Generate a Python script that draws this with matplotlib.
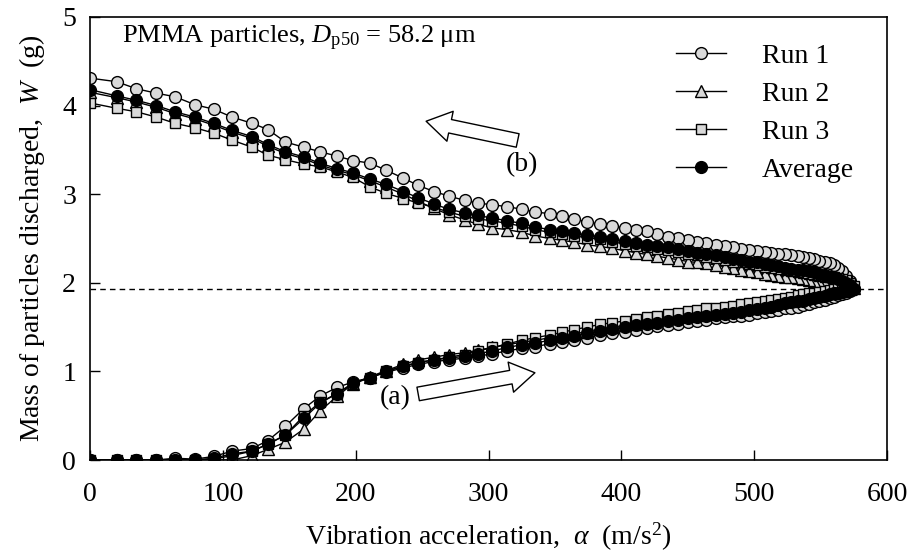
import matplotlib
matplotlib.use('Agg')
import matplotlib.pyplot as plt

# Times-like look
plt.rcParams['font.family'] = ['Liberation Serif', 'DejaVu Serif']
plt.rcParams['mathtext.fontset'] = 'custom'
plt.rcParams['mathtext.rm'] = 'Liberation Serif'
plt.rcParams['mathtext.it'] = 'Liberation Serif:italic'

# vibration acceleration (m/s2), increasing sweep (a)
alpha_up = [0, 20, 35, 50, 64, 79, 93, 107, 122, 134,
            147, 161, 173, 186, 198, 211, 223, 236, 247, 259,
            270, 282, 292, 303, 314, 325, 335, 346, 355, 364,
            374, 384, 393, 403, 411, 419, 427, 435, 443, 450,
            457, 464, 471, 478, 484, 490, 496, 502, 508, 513,
            518, 523, 528, 533, 537, 541, 545, 549, 553, 557,
            560, 563, 566, 569, 572, 575]
# decreasing sweep (b), listed from low to high alpha
alpha_back = [0, 20, 35, 50, 64, 79, 93, 107, 122, 134,
              147, 161, 173, 186, 198, 211, 223, 236, 247, 259,
              270, 282, 292, 303, 314, 325, 335, 346, 355, 364,
              374, 384, 393, 403, 411, 419, 427, 435, 443, 450,
              457, 464, 471, 478, 484, 490, 496, 502, 508, 513,
              518, 523, 528, 533, 537, 541, 545, 549, 553, 557,
              560, 563, 566, 569, 572]

# mass discharged W (g), sweep (a)
run1_up = [0, 0, 0, 0, 0.02, 0.01, 0.04, 0.1, 0.13, 0.22,
           0.38, 0.58, 0.72, 0.82, 0.88, 0.93, 0.99, 1.04, 1.08, 1.11,
           1.13, 1.15, 1.17, 1.2, 1.23, 1.26, 1.28, 1.31, 1.33, 1.36,
           1.38, 1.41, 1.43, 1.45, 1.47, 1.49, 1.51, 1.52, 1.54, 1.56,
           1.57, 1.58, 1.6, 1.61, 1.62, 1.63, 1.64, 1.66, 1.67, 1.68,
           1.69, 1.71, 1.72, 1.73, 1.75, 1.76, 1.78, 1.79, 1.81, 1.83,
           1.84, 1.86, 1.87, 1.89, 1.91, 1.93]
run2_up = [0, 0, 0, 0, 0, 0, 0, 0, 0.05, 0.12,
           0.2, 0.35, 0.55, 0.72, 0.86, 0.94, 1.01, 1.08, 1.13, 1.16,
           1.19, 1.21, 1.24, 1.27, 1.3, 1.33, 1.35, 1.38, 1.4, 1.42,
           1.45, 1.48, 1.5, 1.52, 1.54, 1.56, 1.58, 1.6, 1.61, 1.63,
           1.64, 1.65, 1.67, 1.68, 1.69, 1.7, 1.72, 1.73, 1.75, 1.76,
           1.78, 1.79, 1.8, 1.82, 1.83, 1.84, 1.85, 1.86, 1.87, 1.88,
           1.89, 1.9, 1.91, 1.92, 1.93, 1.94]
run3_up = [0, 0, 0, 0, 0, 0, 0.01, 0.05, 0.1, 0.18,
           0.28, 0.5, 0.65, 0.75, 0.86, 0.93, 1.0, 1.06, 1.1, 1.13,
           1.16, 1.19, 1.23, 1.27, 1.31, 1.35, 1.38, 1.41, 1.44, 1.47,
           1.5, 1.53, 1.55, 1.57, 1.59, 1.61, 1.63, 1.65, 1.66, 1.68,
           1.69, 1.71, 1.72, 1.73, 1.74, 1.76, 1.77, 1.78, 1.79, 1.81,
           1.82, 1.83, 1.84, 1.86, 1.87, 1.88, 1.89, 1.9, 1.91, 1.92,
           1.93, 1.94, 1.94, 1.95, 1.95, 1.96]
avg_up = [0, 0, 0, 0, 0, 0, 0.02, 0.07, 0.1, 0.18,
          0.28, 0.47, 0.64, 0.75, 0.87, 0.93, 1.0, 1.06, 1.1, 1.13,
          1.15, 1.17, 1.2, 1.23, 1.27, 1.3, 1.32, 1.35, 1.38, 1.4,
          1.43, 1.46, 1.48, 1.5, 1.52, 1.54, 1.55, 1.57, 1.58, 1.6,
          1.61, 1.62, 1.64, 1.65, 1.66, 1.67, 1.69, 1.7, 1.72, 1.73,
          1.75, 1.77, 1.78, 1.79, 1.8, 1.82, 1.83, 1.84, 1.85, 1.87,
          1.88, 1.89, 1.9, 1.91, 1.92, 1.93]

# mass discharged W (g), sweep (b), low to high alpha
run1_back = [4.31, 4.27, 4.19, 4.14, 4.1, 4.01, 3.96, 3.87, 3.8, 3.73,
             3.59, 3.53, 3.48, 3.43, 3.38, 3.35, 3.27, 3.18, 3.1, 3.03,
             2.98, 2.93, 2.9, 2.88, 2.86, 2.83, 2.8, 2.78, 2.75, 2.72,
             2.69, 2.66, 2.64, 2.62, 2.6, 2.58, 2.55, 2.52, 2.5, 2.48,
             2.46, 2.45, 2.43, 2.41, 2.4, 2.38, 2.37, 2.36, 2.35, 2.34,
             2.33, 2.32, 2.31, 2.3, 2.29, 2.28, 2.27, 2.25, 2.24, 2.22,
             2.2, 2.17, 2.13, 2.08, 2.02]
run2_back = [4.15, 4.09, 4.04, 3.98, 3.91, 3.85, 3.78, 3.7, 3.63, 3.54,
             3.46, 3.4, 3.33, 3.27, 3.22, 3.15, 3.08, 3.0, 2.92, 2.84,
             2.77, 2.71, 2.66, 2.62, 2.6, 2.57, 2.53, 2.5, 2.48, 2.46,
             2.43, 2.41, 2.39, 2.36, 2.34, 2.32, 2.3, 2.28, 2.26, 2.24,
             2.23, 2.22, 2.2, 2.18, 2.17, 2.15, 2.13, 2.12, 2.1, 2.09,
             2.08, 2.07, 2.06, 2.05, 2.04, 2.03, 2.02, 2.01, 2.0, 2.0,
             1.99, 1.98, 1.97, 1.96, 1.95]
run3_back = [4.03, 3.97, 3.93, 3.87, 3.8, 3.75, 3.69, 3.61, 3.53, 3.44,
             3.39, 3.34, 3.31, 3.25, 3.19, 3.08, 3.01, 2.95, 2.9, 2.85,
             2.8, 2.75, 2.72, 2.7, 2.67, 2.64, 2.6, 2.57, 2.55, 2.53,
             2.51, 2.49, 2.46, 2.44, 2.42, 2.4, 2.38, 2.37, 2.35, 2.33,
             2.31, 2.29, 2.28, 2.26, 2.24, 2.23, 2.21, 2.2, 2.18, 2.17,
             2.16, 2.14, 2.13, 2.12, 2.11, 2.1, 2.09, 2.08, 2.07, 2.06,
             2.06, 2.05, 2.04, 2.03, 2.0]
avg_back = [4.18, 4.11, 4.06, 4.0, 3.93, 3.87, 3.8, 3.72, 3.65, 3.56,
            3.48, 3.42, 3.35, 3.29, 3.24, 3.17, 3.11, 3.03, 2.96, 2.89,
            2.83, 2.79, 2.76, 2.73, 2.7, 2.67, 2.63, 2.6, 2.58, 2.56,
            2.54, 2.52, 2.49, 2.47, 2.45, 2.43, 2.41, 2.4, 2.38, 2.36,
            2.34, 2.32, 2.31, 2.29, 2.27, 2.26, 2.24, 2.23, 2.21, 2.2,
            2.19, 2.17, 2.16, 2.15, 2.14, 2.13, 2.12, 2.1, 2.09, 2.07,
            2.06, 2.04, 2.02, 2.0, 1.97]

w_max_level = 1.93  # dashed reference line

fig = plt.figure(figsize=(9.13, 5.56), dpi=100)
ax = fig.add_axes([90 / 913, 96 / 556, 797 / 913, 443 / 556])

# full sweep: up to max acceleration, then back down
x_all = alpha_up + alpha_back[::-1]
series = [
    ('Run 1', run1_up + run1_back[::-1], 'o', '#d9d9d9', 8.5),
    ('Run 2', run2_up + run2_back[::-1], '^', '#d9d9d9', 8.5),
    ('Run 3', run3_up + run3_back[::-1], 's', '#d9d9d9', 7.5),
    ('Average', avg_up + avg_back[::-1], 'o', 'black', 8.5),
]
for label, w, mk, fc, ms in series:
    ax.plot(x_all, w, color='black', lw=1, marker=mk, markersize=ms,
            markerfacecolor=fc, markeredgecolor='black', markeredgewidth=1,
            label=label)

ax.axhline(w_max_level, color='black', lw=1, ls=(0, (4, 3)), zorder=0)

# direction arrows (hollow block arrows)
arrow_style = 'simple,head_length=0.8,head_width=1.0,tail_width=0.45'
ax.annotate('', xy=(251, 3.83), xytext=(324, 3.60),
            arrowprops=dict(arrowstyle=arrow_style, mutation_scale=22,
                            fc='white', ec='black', lw=1))
ax.annotate('', xy=(337, 0.99), xytext=(245, 0.74),
            arrowprops=dict(arrowstyle=arrow_style, mutation_scale=22,
                            fc='white', ec='black', lw=1))
ax.text(325, 3.33, '(b)', fontsize=20, ha='center', va='center')
ax.text(230, 0.70, '(a)', fontsize=20, ha='center', va='center')

ax.text(24, 4.76, 'PMMA particles, $D_{\\mathrm{p50}}$ = 58.2 \u03bcm',
        fontsize=19, ha='left', va='center')

ax.set_xlim(0, 600)
ax.set_ylim(0, 5)
ax.set_xticks([0, 100, 200, 300, 400, 500, 600])
ax.set_yticks([0, 1, 2, 3, 4, 5])
ax.tick_params(direction='in', length=7, width=1, labelsize=20, pad=10)
ax.tick_params(axis='x', pad=16)
for sp in ax.spines.values():
    sp.set_linewidth(1.2)

ax.set_xlabel('Vibration acceleration,  $\\alpha$  (m/s$^2$)', fontsize=20,
              labelpad=10)
ax.set_ylabel('Mass of particles discharged,  $W$  (g)', fontsize=20,
              labelpad=11)

ax.legend(loc='upper left', bbox_to_anchor=(0.735, 0.94), frameon=False,
          fontsize=20, handlelength=1.8, handletextpad=1.3, labelspacing=0.45,
          borderpad=0, borderaxespad=0)

plt.savefig('out.png', dpi=100)
plt.close()
